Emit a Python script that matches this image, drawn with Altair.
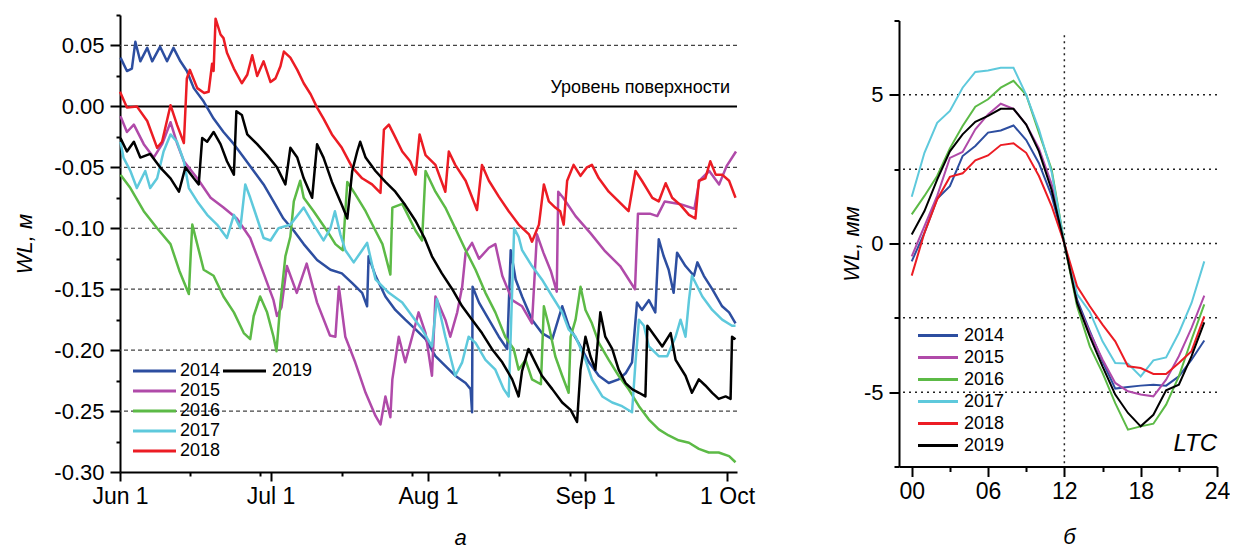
import altair as alt
import pandas as pd

FONT = "Liberation Sans"
YEARS = ["2014", "2015", "2016", "2017", "2018", "2019"]
COLORS = ["#2d4ea0", "#b04aa9", "#5cba46", "#5ec9dc", "#ec1c24", "#000000"]

# ---------------- panel а : water level, days since Jun 1 ----------------
day_2014 = [0.1, 1.4, 2.4, 3.1, 4.1, 5.5, 6.5, 8.1, 9.5, 10.8, 12.2, 13.5, 14.9, 16.9, 18.9, 20.9, 23.0, 25.0, 27.0, 29.0,
            31.0, 33.0, 35.1, 37.1, 39.8, 42.5, 44.8, 46.9, 48.9, 49.9, 50.2, 51.6, 53.6, 55.6, 57.6, 59.7, 61.7, 63.7, 65.7, 67.7,
            69.8, 70.8, 71.1, 71.2, 72.5, 74.5, 76.5, 78.2, 78.9, 79.9, 81.2, 83.2, 85.2, 87.3, 89.3, 90.6, 92.6, 94.7, 96.7, 98.7,
            100.7, 102.1, 103.4, 104.4, 105.4, 106.8, 108.1, 108.8, 109.8, 110.8, 111.8, 112.5, 114.2, 115.9, 116.6, 117.9, 119.6, 121.6, 123.0, 124.3]
wl_2014 = [0.040, 0.029, 0.031, 0.053, 0.037, 0.048, 0.037, 0.049, 0.037, 0.048, 0.037, 0.029, 0.015, 0.004, -0.010, -0.021, -0.031, -0.042, -0.053, -0.064,
           -0.078, -0.092, -0.102, -0.113, -0.126, -0.134, -0.137, -0.145, -0.153, -0.164, -0.123, -0.139, -0.156, -0.167, -0.175, -0.183, -0.191, -0.205, -0.213, -0.221,
           -0.227, -0.232, -0.251, -0.148, -0.161, -0.175, -0.189, -0.199, -0.118, -0.142, -0.156, -0.175, -0.186, -0.191, -0.164, -0.180, -0.194, -0.210, -0.221, -0.227,
           -0.224, -0.219, -0.210, -0.161, -0.167, -0.159, -0.169, -0.109, -0.123, -0.134, -0.153, -0.120, -0.131, -0.139, -0.128, -0.139, -0.150, -0.164, -0.169, -0.178]

day_2015 = [0.1, 1.4, 2.8, 4.8, 6.8, 8.5, 10.2, 11.5, 12.9, 15.6, 18.3, 20.9, 23.6, 26.3, 29.0, 31.0, 31.7, 32.6, 33.7, 35.7,
            37.7, 39.8, 42.4, 43.5, 44.2, 45.5, 47.5, 49.6, 51.6, 52.6, 53.6, 54.6, 55.0, 56.3, 57.6, 59.0, 60.3, 61.7, 63.0, 63.7,
            65.7, 66.7, 68.1, 69.1, 69.8, 71.1, 72.5, 74.5, 75.8, 77.2, 79.2, 81.2, 83.2, 84.2, 85.5, 87.0, 88.2, 88.5, 89.5, 92.0,
            95.0, 98.0, 101.0, 104.0, 104.6, 107.0, 108.5, 110.0, 113.0, 116.0, 117.0, 119.0, 121.0, 122.5, 124.4]
wl_2015 = [-0.008, -0.021, -0.015, -0.031, -0.042, -0.031, -0.013, -0.030, -0.045, -0.059, -0.075, -0.083, -0.092, -0.108, -0.137, -0.159, -0.172, -0.165, -0.131, -0.153,
           -0.129, -0.161, -0.188, -0.189, -0.148, -0.189, -0.210, -0.235, -0.254, -0.261, -0.238, -0.255, -0.224, -0.189, -0.210, -0.189, -0.169, -0.186, -0.221, -0.156,
           -0.175, -0.189, -0.169, -0.148, -0.120, -0.112, -0.125, -0.116, -0.113, -0.139, -0.159, -0.164, -0.178, -0.105, -0.120, -0.135, -0.152, -0.070, -0.075, -0.090,
           -0.104, -0.119, -0.131, -0.150, -0.088, -0.088, -0.090, -0.078, -0.080, -0.084, -0.061, -0.053, -0.064, -0.049, -0.037]

day_2016 = [0.1, 2.1, 4.8, 7.5, 10.2, 12.0, 13.9, 14.3, 14.6, 16.9, 18.9, 20.9, 23.0, 25.0, 26.3, 27.0, 28.3, 29.7, 31.0, 31.6,
            32.4, 33.4, 34.4, 35.1, 36.4, 37.1, 39.1, 41.8, 43.5, 45.0, 45.9, 47.5, 49.6, 51.6, 53.0, 54.6, 55.0, 57.0, 59.7, 61.0,
            61.7, 63.7, 65.7, 67.7, 69.8, 71.8, 73.8, 75.8, 77.8, 79.5, 80.5, 81.9, 83.2, 85.0, 85.6, 86.6, 87.9, 89.3, 90.6, 91.0,
            92.0, 93.0, 94.0, 95.3, 96.7, 98.7, 100.7, 102.7, 104.8, 106.8, 108.8, 110.8, 112.8, 114.9, 116.9, 118.9, 120.9, 123.0, 124.3]
wl_2016 = [-0.056, -0.067, -0.086, -0.100, -0.113, -0.135, -0.154, -0.120, -0.097, -0.134, -0.139, -0.156, -0.169, -0.186, -0.191, -0.172, -0.156, -0.169, -0.189, -0.201,
           -0.161, -0.123, -0.107, -0.078, -0.061, -0.075, -0.086, -0.102, -0.113, -0.118, -0.062, -0.072, -0.086, -0.102, -0.113, -0.138, -0.083, -0.080, -0.102, -0.110,
           -0.053, -0.070, -0.083, -0.100, -0.118, -0.134, -0.153, -0.169, -0.189, -0.199, -0.216, -0.208, -0.224, -0.228, -0.164, -0.180, -0.205, -0.221, -0.235, -0.189,
           -0.175, -0.148, -0.167, -0.178, -0.194, -0.208, -0.221, -0.232, -0.246, -0.257, -0.265, -0.270, -0.274, -0.276, -0.281, -0.284, -0.284, -0.287, -0.292]

day_2017 = [0.1, 0.7, 2.1, 3.4, 5.1, 6.1, 7.5, 8.8, 10.2, 11.5, 12.9, 13.9, 15.6, 17.6, 19.6, 21.6, 23.0, 24.3, 25.3, 26.3,
            27.7, 29.0, 30.4, 32.0, 34.4, 37.1, 39.1, 41.1, 42.5, 43.4, 44.5, 45.5, 47.2, 48.9, 49.9, 51.6, 54.3, 57.0, 59.0, 61.0,
            63.0, 64.0, 65.7, 67.7, 69.1, 70.4, 71.8, 73.8, 75.8, 77.5, 78.5, 79.6, 80.5, 81.2, 83.2, 85.2, 87.3, 89.3, 90.6, 92.0,
            94.0, 95.3, 97.4, 99.4, 101.4, 103.4, 104.1, 104.8, 105.8, 106.8, 108.8, 110.5, 112.2, 113.2, 114.2, 114.9, 115.5, 117.6, 119.6, 121.6,
            123.6, 124.3]
wl_2017 = [-0.029, -0.042, -0.053, -0.067, -0.053, -0.067, -0.059, -0.037, -0.023, -0.029, -0.045, -0.067, -0.078, -0.089, -0.097, -0.108, -0.089, -0.100, -0.064, -0.075,
           -0.092, -0.108, -0.110, -0.100, -0.097, -0.083, -0.097, -0.110, -0.100, -0.086, -0.105, -0.118, -0.128, -0.118, -0.112, -0.142, -0.153, -0.161, -0.172, -0.183,
           -0.197, -0.158, -0.189, -0.221, -0.210, -0.189, -0.194, -0.208, -0.216, -0.232, -0.238, -0.100, -0.107, -0.118, -0.131, -0.142, -0.156, -0.169, -0.183, -0.189,
           -0.208, -0.224, -0.238, -0.243, -0.246, -0.251, -0.210, -0.175, -0.180, -0.197, -0.205, -0.205, -0.189, -0.175, -0.189, -0.159, -0.139, -0.156, -0.167, -0.175,
           -0.180, -0.180]

day_2018 = [0.0, 1.4, 3.4, 5.5, 7.5, 8.5, 10.2, 11.5, 12.9, 13.5, 14.1, 15.6, 17.0, 17.9, 18.6, 18.9, 19.3, 20.3, 20.9, 21.6,
            23.0, 24.6, 25.7, 26.7, 27.7, 29.0, 30.4, 31.4, 32.4, 33.1, 34.4, 35.8, 37.1, 38.5, 39.8, 41.1, 42.8, 44.8, 46.9, 48.9,
            50.9, 52.6, 53.3, 54.3, 55.3, 57.0, 58.6, 59.7, 60.5, 61.7, 63.7, 65.7, 66.4, 67.7, 69.8, 72.1, 73.1, 74.5, 76.5, 78.5,
            80.5, 82.6, 83.2, 84.6, 85.6, 86.6, 87.9, 88.9, 89.6, 90.3, 91.6, 93.0, 94.3, 95.3, 96.7, 98.7, 100.7, 102.7, 104.1, 105.4,
            107.5, 108.8, 110.2, 111.5, 113.2, 114.9, 116.2, 116.9, 118.2, 119.2, 120.3, 121.6, 123.0, 124.3]
wl_2018 = [0.012, -0.001, 0.000, -0.012, -0.034, -0.029, 0.001, -0.015, -0.030, 0.023, 0.030, 0.015, 0.011, 0.012, 0.035, 0.029, 0.072, 0.059, 0.056, 0.044,
           0.031, 0.019, 0.026, 0.042, 0.025, 0.037, 0.020, 0.023, 0.033, 0.045, 0.040, 0.030, 0.019, 0.010, -0.001, -0.010, -0.023, -0.034, -0.050, -0.059,
           -0.064, -0.071, -0.019, -0.015, -0.023, -0.037, -0.045, -0.056, -0.023, -0.040, -0.048, -0.070, -0.037, -0.048, -0.061, -0.085, -0.048, -0.061, -0.074, -0.086,
           -0.097, -0.105, -0.111, -0.097, -0.064, -0.078, -0.083, -0.086, -0.097, -0.061, -0.048, -0.057, -0.050, -0.048, -0.059, -0.070, -0.078, -0.086, -0.053, -0.061,
           -0.075, -0.078, -0.063, -0.075, -0.081, -0.089, -0.092, -0.061, -0.059, -0.045, -0.056, -0.056, -0.061, -0.075]

day_2019 = [0.1, 1.4, 2.8, 4.1, 6.1, 8.1, 10.2, 11.9, 13.2, 14.9, 15.9, 16.6, 17.6, 18.9, 20.3, 21.6, 23.0, 23.5, 24.6, 25.7,
            27.7, 29.7, 31.7, 33.4, 34.4, 35.8, 37.1, 38.8, 39.8, 41.1, 42.8, 44.8, 45.9, 46.9, 47.9, 48.5, 49.6, 51.6, 53.6, 55.6,
            57.6, 59.7, 61.5, 63.0, 65.0, 67.1, 69.1, 71.1, 73.1, 75.1, 77.2, 79.2, 80.5, 81.2, 82.5, 83.6, 85.2, 87.3, 89.3, 91.0,
            92.3, 93.0, 94.0, 95.0, 96.0, 97.0, 98.0, 99.4, 100.7, 102.1, 103.4, 104.8, 106.1, 106.5, 108.1, 109.5, 111.2, 112.2, 114.2, 115.5,
            116.9, 118.2, 119.6, 120.9, 122.3, 123.3, 123.6, 124.3]
wl_2019 = [-0.026, -0.037, -0.029, -0.042, -0.039, -0.050, -0.059, -0.070, -0.050, -0.059, -0.064, -0.026, -0.029, -0.021, -0.031, -0.045, -0.056, -0.004, -0.007, -0.023,
           -0.031, -0.040, -0.050, -0.064, -0.034, -0.042, -0.059, -0.075, -0.031, -0.042, -0.062, -0.081, -0.092, -0.053, -0.037, -0.029, -0.042, -0.053, -0.062, -0.070,
           -0.081, -0.094, -0.108, -0.123, -0.137, -0.150, -0.164, -0.175, -0.186, -0.199, -0.210, -0.224, -0.238, -0.217, -0.199, -0.208, -0.221, -0.232, -0.243, -0.249,
           -0.259, -0.216, -0.189, -0.205, -0.216, -0.169, -0.189, -0.199, -0.216, -0.227, -0.232, -0.235, -0.238, -0.180, -0.189, -0.197, -0.186, -0.208, -0.221, -0.235,
           -0.224, -0.229, -0.235, -0.240, -0.238, -0.240, -0.189, -0.191]

# ---------------- panel б : mean diurnal course, mm ----------------
hours = list(range(24))
ltc_2014 = [-0.60, 0.36, 1.50, 1.93, 2.94, 3.28, 3.73, 3.80, 3.97, 3.48, 2.70, 1.60, 0.00, -1.89, -2.95, -3.96, -4.88, -4.83, -4.78, -4.75, -4.78, -4.47, -3.91, -3.26]
ltc_2015 = [-0.43, 0.58, 1.60, 2.88, 3.08, 3.84, 4.34, 4.70, 4.53, 4.00, 3.20, 2.00, 0.00, -2.00, -3.00, -3.90, -4.69, -4.97, -5.08, -5.14, -4.58, -3.79, -2.84, -1.75]
ltc_2016 = [0.98, 1.60, 2.27, 3.20, 3.95, 4.60, 4.85, 5.24, 5.47, 5.00, 3.73, 2.49, 0.00, -2.11, -3.46, -4.35, -5.37, -6.26, -6.15, -6.06, -5.42, -4.47, -3.23, -2.05]
ltc_2017 = [1.57, 3.05, 4.06, 4.46, 5.24, 5.77, 5.82, 5.91, 5.91, 5.00, 3.84, 2.40, 0.00, -1.70, -2.30, -3.29, -4.02, -4.04, -4.47, -3.93, -3.83, -3.01, -2.00, -0.60]
ltc_2018 = [-1.08, 0.36, 1.48, 2.24, 2.36, 2.80, 2.96, 3.31, 3.37, 3.05, 2.27, 1.26, 0.00, -1.44, -2.11, -2.73, -3.29, -4.13, -4.19, -4.39, -4.39, -4.02, -3.62, -2.45]
ltc_2019 = [0.30, 1.09, 2.15, 3.10, 3.67, 4.09, 4.29, 4.53, 4.53, 4.00, 3.10, 1.80, 0.00, -2.00, -3.12, -4.13, -5.08, -5.70, -6.15, -5.76, -4.94, -4.75, -3.79, -2.65]

# axis ticks / labels / reference lines
x_major_a = [0, 30.4, 62.2, 93.9, 122.6]
x_major_lab_a = ["Jun 1", "Jul 1", "Aug 1", "Sep 1", "1 Oct"]
x_minor_a = [14.1, 28.3, 44.8, 59.0, 76.6, 90.9, 108.3]
y_ticks_a = [round(-0.30 + 0.025 * i, 3) for i in range(16)]
grid_a = [0.05, -0.05, -0.10, -0.15, -0.20, -0.25]
surface_label = "Уровень поверхности"

x_ticks_b = [0, 3, 6, 9, 12, 15, 18, 21, 24]
y_ticks_b = [-7.5, -5, -2.5, 0, 2.5, 5, 7.5]
grid_b = [5, 2.5, 0, -2.5, -5]
noon_line = {"h": [12], "top": [7.0], "bot": [-7.5]}

# ---------------- tables ----------------
season_rows = []
for yr, dd, vv in zip(YEARS, [day_2014, day_2015, day_2016, day_2017, day_2018, day_2019],
                      [wl_2014, wl_2015, wl_2016, wl_2017, wl_2018, wl_2019]):
    assert len(dd) == len(vv), yr
    for d, v in zip(dd, vv):
        season_rows.append({"year": yr, "day": d, "wl": v})
season = pd.DataFrame(season_rows)

diurnal_rows = []
for yr, vv in zip(YEARS, [ltc_2014, ltc_2015, ltc_2016, ltc_2017, ltc_2018, ltc_2019]):
    assert len(vv) == 24, yr
    for h, v in zip(hours, vv):
        diurnal_rows.append({"year": yr, "h": h, "wl": v})
diurnal = pd.DataFrame(diurnal_rows)

# ---------------- layout ----------------
W1, H1 = 617, 457
W2, H2 = 318, 446


def axis(**kw):
    base = dict(domainColor="black", domainWidth=2, tickColor="black", tickWidth=2,
                labelColor="black", labelFont=FONT, grid=False, labelFlush=False,
                labelOverlap=False, titleColor="black", titleFont=FONT,
                titleFontWeight="normal", titleFontStyle="italic")
    base.update(kw)
    return alt.Axis(**base)


def chain_expr(vals, labs):
    e = "''"
    for v, l in reversed(list(zip(vals, labs))):
        e = f"datum.value == {v} ? '{l}' : ({e})"
    return e


def cond(test, yes, no):
    return {"condition": {"test": test, "value": yes}, "value": no}


def line_legend(x, y, length, row_pad, offset, sw):
    u = length / 10.0
    return alt.Legend(orient="none", legendX=x, legendY=y, title=None,
                      symbolType=f"M{-u},0L{u},0", symbolSize=100, symbolStrokeWidth=sw,
                      labelFont=FONT, labelFontSize=18, labelColor="black",
                      labelOffset=offset, rowPadding=row_pad, padding=0)


# ---- panel а ----
major_test_a = f"indexof({x_major_a}, datum.value) >= 0"
x_axis_a = axis(values=sorted(x_major_a + x_minor_a),
                labelExpr=chain_expr(x_major_a, x_major_lab_a),
                tickSize=cond(major_test_a, 9, 4),
                labelFontSize=cond(major_test_a, 23, 0), labelPadding=4,
                title="а", titleFontSize=22, titleX=340, titleY=72, titleBaseline="alphabetic")
y_major_test = "abs(round(datum.value * 40)) % 2 == 0"
y_axis_a = axis(values=y_ticks_a,
                labelExpr=f"{y_major_test} ? (datum.value < 0 ? '-' : '') + format(abs(datum.value), '.2f') : ''",
                tickSize=cond(y_major_test, 10, 4),
                labelFontSize=cond(y_major_test, 22, 0), labelPadding=6,
                title="WL, м", titleFontSize=22, titlePadding=17)

sx_a = alt.Scale(domain=[0, 124.6], nice=False, zero=False)
sy_a = alt.Scale(domain=[-0.30, 0.075], nice=False, zero=False)
X_a = alt.X("day:Q", scale=sx_a, axis=x_axis_a)
Y_a = alt.Y("wl:Q", scale=sy_a, axis=y_axis_a)

grid_layer_a = alt.Chart(pd.DataFrame({"wl": grid_a})).mark_rule(
    color="#444444", strokeWidth=1.2, strokeDash=[4, 3]).encode(y=Y_a)
surface_layer = alt.Chart(pd.DataFrame({"wl": [0.0]})).mark_rule(
    color="black", strokeWidth=2).encode(y=Y_a)
surface_text = alt.Chart(pd.DataFrame({"wl": [0.0], "label": [surface_label]})).mark_text(
    align="right", baseline="alphabetic", dy=-13, fontSize=18, font=FONT, color="black"
).encode(x=alt.value(W1 - 7), y=Y_a, text="label:N")

lines_a = alt.Chart(season[season["year"] != "2019"]).mark_line(strokeWidth=2.5, strokeJoin="round").encode(
    x=X_a, y=Y_a,
    color=alt.Color("year:N", scale=alt.Scale(domain=YEARS[:5], range=COLORS[:5]),
                    legend=line_legend(25.5, 347, 43, 2, 16.5, 3)))
line_2019_a = alt.Chart(season[season["year"] == "2019"]).mark_line(strokeWidth=2.5, strokeJoin="round").encode(
    x=X_a, y=Y_a,
    stroke=alt.Stroke("year:N", scale=alt.Scale(domain=["2019"], range=["#000000"]),
                      legend=line_legend(115.5, 347, 43, 2, 18.5, 3)))

left = alt.layer(grid_layer_a, surface_layer, lines_a, line_2019_a, surface_text).properties(width=W1, height=H1)

# ---- panel б ----
x_major_test_b = "datum.value % 6 == 0"
x_axis_b = axis(values=x_ticks_b,
                labelExpr=f"{x_major_test_b} ? (datum.value < 10 ? '0' : '') + datum.value : ''",
                tickSize=cond(x_major_test_b, 10, 5),
                labelFontSize=cond(x_major_test_b, 23, 0), labelPadding=4,
                title="б", titleFontSize=22, titleX=170, titleY=77, titleBaseline="alphabetic")
y_major_test_b = "datum.value % 5 == 0"
y_axis_b = axis(values=y_ticks_b,
                labelExpr=f"{y_major_test_b} ? (datum.value < 0 ? '-' : '') + abs(datum.value) : ''",
                tickSize=cond(y_major_test_b, 10, 5),
                labelFontSize=cond(y_major_test_b, 22, 0), labelPadding=6,
                title="WL, мм", titleFontSize=22, titlePadding=0)
sx_b = alt.Scale(domain=[-1, 24], nice=False, zero=False)
sy_b = alt.Scale(domain=[-7.5, 7.5], nice=False, zero=False)
X_b = alt.X("h:Q", scale=sx_b, axis=x_axis_b)
Y_b = alt.Y("wl:Q", scale=sy_b, axis=y_axis_b)

grid_layer_b = alt.Chart(pd.DataFrame({"wl": grid_b})).mark_rule(
    color="#222222", strokeWidth=1.5, strokeDash=[2, 4]).encode(y=Y_b)
noon_layer = alt.Chart(pd.DataFrame(noon_line)).mark_rule(
    color="#222222", strokeWidth=1.5, strokeDash=[2, 4]).encode(
    x=X_b, y=alt.Y("top:Q", scale=sy_b, axis=y_axis_b), y2="bot:Q")
lines_b = alt.Chart(diurnal).mark_line(strokeWidth=2).encode(
    x=X_b, y=Y_b,
    color=alt.Color("year:N", scale=alt.Scale(domain=YEARS, range=COLORS),
                    legend=line_legend(30, 306, 40, 4, 17, 3)))
ltc_text = alt.Chart(pd.DataFrame({"label": ["LTC"]})).mark_text(
    align="right", baseline="alphabetic", fontSize=24, font=FONT, fontStyle="italic", color="black"
).encode(x=alt.value(W2), y=alt.value(H2 - 16), text="label:N")

right = alt.layer(grid_layer_b, noon_layer, lines_b, ltc_text).properties(width=W2, height=H2)

chart = alt.hconcat(left, right, spacing=162, bounds="flush", center=True).resolve_scale(
    color="independent").resolve_legend(color="independent").properties(
    padding={"left": 5, "top": 6, "right": 0, "bottom": 0}, background="white"
).configure_view(stroke=None)

chart.save("out.html", embed_options={"renderer": "svg", "actions": False})
